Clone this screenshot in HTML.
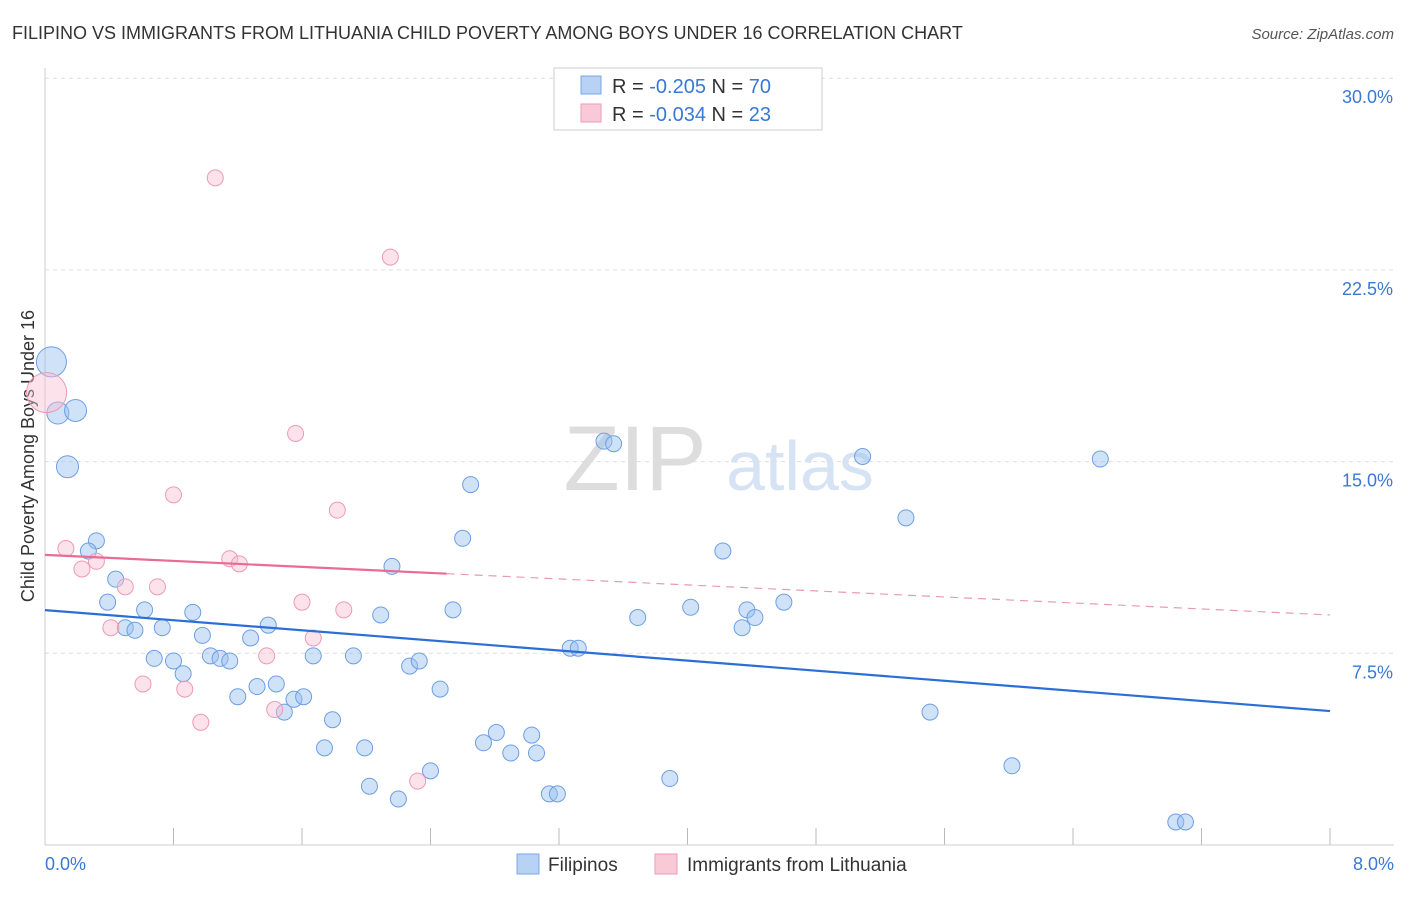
<!DOCTYPE html>
<html><head><meta charset="utf-8"><style>
body{margin:0;background:#fff;font-family:"Liberation Sans",sans-serif;}
svg text{font-family:"Liberation Sans",sans-serif;}
</style></head><body>
<svg id="chart" width="1406" height="892" xmlns="http://www.w3.org/2000/svg">
<text x="12" y="39" font-size="18" fill="#333">FILIPINO VS IMMIGRANTS FROM LITHUANIA CHILD POVERTY AMONG BOYS UNDER 16 CORRELATION CHART</text>
<text x="1394" y="39" font-size="15" fill="#555" font-style="italic" text-anchor="end">Source: ZipAtlas.com</text>
<g id="grid"></g>
<text x="635" y="490" font-size="92" fill="#ddd" font-family="Liberation Serif" text-anchor="middle">ZIP</text>
<text x="800" y="490" font-size="70" fill="#d5e3f5" text-anchor="middle">atlas</text>
<line x1="45" y1="68" x2="45" y2="845" stroke="#ccc"/>
<line x1="45" y1="845" x2="1394" y2="845" stroke="#ccc"/>
<text transform="translate(34,456) rotate(-90)" font-size="18" fill="#333" text-anchor="middle">Child Poverty Among Boys Under 16</text>
<text x="45" y="870" font-size="18" fill="#3a78d6">0.0%</text>
<text x="1394" y="870" font-size="18" fill="#3a78d6" text-anchor="end">8.0%</text>
<g id="marks"></g>
<g>
<rect x="554" y="68" width="268" height="62" fill="#fff" stroke="#ccc"/>
<rect x="581" y="76" width="20" height="18" fill="#b7d2f5" stroke="#7aa7e6"/>
<rect x="581" y="104" width="20" height="18" fill="#f9c9d8" stroke="#ee9ab5"/>
<text x="612" y="93" font-size="20" fill="#333">R = <tspan fill="#3a78d6">-0.205</tspan>   N = <tspan fill="#3a78d6">70</tspan></text>
<text x="612" y="121" font-size="20" fill="#333">R = <tspan fill="#3a78d6">-0.034</tspan>   N = <tspan fill="#3a78d6">23</tspan></text>
</g>
<g>
<rect x="517" y="854" width="22" height="20" fill="#b7d2f5" stroke="#7aa7e6"/>
<text x="548" y="871" font-size="19" fill="#333">Filipinos</text>
<rect x="655" y="854" width="22" height="20" fill="#f9c9d8" stroke="#ee9ab5"/>
<text x="687" y="871" font-size="19" fill="#333">Immigrants from Lithuania</text>
</g>
</svg>
<script>
const yTicks=[7.5,15,22.5,30];
const xTickCount=10;
const blueX=[0.04,0.08,0.19,0.14,0.32,0.27,0.44,0.39,0.62,0.50,0.56,0.73,0.92,0.98,0.68,0.80,0.86,1.03,1.09,1.15,1.28,1.39,1.20,1.32,1.44,1.49,1.55,1.61,1.67,1.74,1.79,1.92,1.99,2.02,2.09,2.16,2.20,2.27,2.33,2.40,2.46,2.54,2.60,2.65,2.73,2.81,2.90,3.03,3.06,3.14,3.19,3.27,3.32,3.48,3.54,3.69,3.89,4.02,4.22,4.34,4.37,4.42,4.60,5.09,5.36,5.51,6.02,6.57,7.04,7.10];
const blueY=[18.9,16.9,17.0,14.8,11.9,11.5,10.4,9.5,9.2,8.5,8.4,8.5,9.1,8.2,7.3,7.2,6.7,7.4,7.3,7.2,8.1,8.6,5.8,6.2,6.3,5.2,5.7,5.8,7.4,3.8,4.9,7.4,3.8,2.3,9.0,10.9,1.8,7.0,7.2,2.9,6.1,9.2,12.0,14.1,4.0,4.4,3.6,4.3,3.6,2.0,2.0,7.7,7.7,15.8,15.7,8.9,2.6,9.3,11.5,8.5,9.2,8.9,9.5,15.2,12.8,5.2,3.1,15.1,0.9,0.9];
const blueBig=[15,11,11,11];
const pinkX=[0.01,0.13,0.23,0.32,0.41,0.50,0.61,0.70,0.80,0.87,0.97,1.06,1.15,1.21,1.38,1.43,1.56,1.60,1.67,1.82,1.86,2.15,2.32];
const pinkY=[17.7,11.6,10.8,11.1,8.5,10.1,6.3,10.1,13.7,6.1,4.8,26.1,11.2,11.0,7.4,5.3,16.1,9.5,8.1,13.1,9.2,23.0,2.5];
const blueTrend=[9.19,5.24];
const pinkTrend=[11.35,9.00];
const pinkSolidEnd=2.5;
const NS="http://www.w3.org/2000/svg";
const xs=v=>45+v/8*1285;
const ys=v=>845-v*25.56;
const grid=document.getElementById('grid'),marks=document.getElementById('marks');
function mk(tag,attrs,parent){const e=document.createElementNS(NS,tag);for(const k in attrs)e.setAttribute(k,attrs[k]);parent.appendChild(e);return e;}
yTicks.forEach(t=>{
 const l=mk('line',{x1:45,x2:1394,y1:ys(t),y2:ys(t),stroke:'#ddd','stroke-dasharray':'4,4'},grid);
 
 
 const tx=mk('text',{x:1393,y:ys(t)+25,'font-size':18,fill:'#3a78d6','text-anchor':'end'},grid);
 tx.textContent=t.toFixed(1)+'%';
 
 
});
for(let i=1;i<=xTickCount;i++){
 const l=mk('line',{x1:xs(i*0.8),x2:xs(i*0.8),y1:828,y2:845,stroke:'#bbb'},grid);
 
 
}
blueX.forEach((x,i)=>{
 const c=mk('circle',{cx:xs(x),cy:ys(blueY[i]),r:blueBig[i]||8,fill:'rgba(150,190,240,0.45)',stroke:'#6d9fe3','stroke-width':1},marks);
 
 
});
pinkX.forEach((x,i)=>{
 const c=mk('circle',{cx:xs(x),cy:ys(pinkY[i]),r:i===0?20:8,fill:'rgba(248,190,210,0.45)',stroke:'#ee9ab5','stroke-width':1},marks);
 
 
});
const bl=mk('line',{x1:xs(0),y1:ys(blueTrend[0]),x2:xs(8),y2:ys(blueTrend[1]),stroke:'#2a6fd6','stroke-width':2.2},marks);


const pAt=x=>pinkTrend[0]+(pinkTrend[1]-pinkTrend[0])*x/8;
const pl=mk('line',{x1:xs(0),y1:ys(pinkTrend[0]),x2:xs(pinkSolidEnd),y2:ys(pAt(pinkSolidEnd)),stroke:'#e86c96','stroke-width':2.2},marks);


const pd=mk('line',{x1:xs(pinkSolidEnd),y1:ys(pAt(pinkSolidEnd)),x2:xs(8),y2:ys(pinkTrend[1]),stroke:'#e89ab5','stroke-width':1.2,'stroke-dasharray':'8,6'},marks);


</script>
</body></html>
